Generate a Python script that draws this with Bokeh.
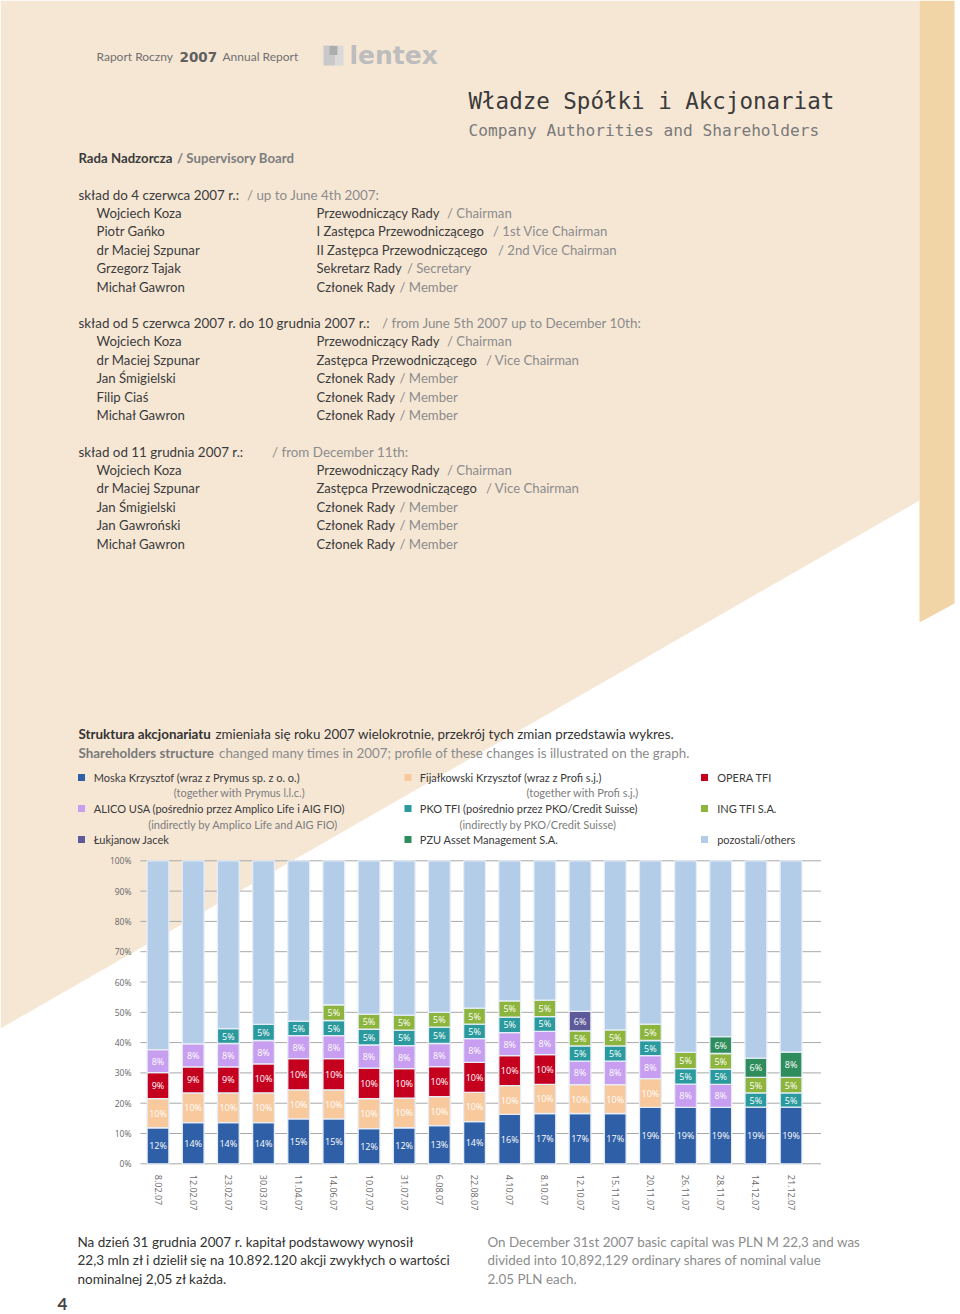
import math
from bokeh.plotting import figure
from bokeh.models import Range1d, LinearAxis, FixedTicker, PrintfTickFormatter, ColumnDataSource
from bokeh.embed import file_html
from bokeh.resources import INLINE
from bokeh.core.properties import value

# ---------------- data ----------------
dates = ["8.02.07", "12.02.07", "23.02.07", "30.03.07", "11.04.07", "14.06.07",
         "10.07.07", "31.07.07", "6.08.07", "22.08.07", "4.10.07", "8.10.07",
         "12.10.07", "15.11.07", "20.11.07", "26.11.07", "28.11.07", "14.12.07", "21.12.07"]

moska       = [11.9, 13.6, 13.6, 13.6, 14.8, 14.8, 11.6, 11.9, 12.6, 13.9, 16.3, 16.6, 16.6, 16.6, 18.6, 18.6, 18.6, 18.7, 18.7]
fijalkowski = [9.6, 9.8, 9.8, 9.8, 9.6, 9.6, 9.9, 9.8, 9.6, 9.7, 9.5, 9.6, 9.5, 9.5, 9.5, 0, 0, 0, 0]
opera       = [8.6, 8.6, 8.6, 9.6, 10.3, 10.3, 10.1, 9.7, 9.9, 9.9, 9.9, 9.8, 0, 0, 0, 0, 0, 0, 0]
alico       = [7.6, 7.6, 7.7, 7.7, 7.6, 7.6, 7.6, 7.6, 7.6, 7.8, 7.6, 7.7, 7.8, 7.8, 7.6, 7.7, 7.6, 0, 0]
pko         = [0, 0, 4.9, 5.3, 4.8, 5.0, 5.2, 5.1, 5.4, 4.8, 5.1, 4.9, 5.0, 5.0, 5.0, 5.1, 5.0, 4.7, 4.7]
ing         = [0, 0, 0, 0, 0, 5.2, 5.0, 5.0, 4.9, 5.3, 5.4, 5.4, 5.0, 5.3, 5.4, 5.4, 5.2, 5.1, 5.1]
lukjanow    = [0, 0, 0, 0, 0, 0, 0, 0, 0, 0, 0, 0, 6.4, 0, 0, 0, 0, 0, 0]
pzu         = [0, 0, 0, 0, 0, 0, 0, 0, 0, 0, 0, 0, 0, 0, 0, 0, 5.6, 6.4, 8.4]

stack_series = [moska, fijalkowski, opera, alico, pko, ing, lukjanow, pzu]
stack_colors = ["#2f5fa6", "#f8c99c", "#c5001f", "#c79ef0", "#2a9a9e", "#8db43c", "#5c5a98", "#2f8c5c"]
others_color = "#b3cce8"

pct_ticks = [0, 10, 20, 30, 40, 50, 60, 70, 80, 90, 100]

legend_main = [
    ["Moska Krzysztof (wraz z Prymus sp. z o. o.)", "Fijałkowski Krzysztof  (wraz z Profi s.j.)", "OPERA TFI"],
    ["ALICO USA (pośrednio przez Amplico Life i AIG FIO)", "PKO TFI (pośrednio przez PKO/Credit Suisse)", "ING TFI S.A."],
    ["Łukjanow Jacek", "PZU Asset Management S.A.", "pozostali/others"],
]
legend_colors = [
    ["#2f5fa6", "#f8c99c", "#c5001f"],
    ["#c79ef0", "#2a9a9e", "#8db43c"],
    ["#5c5a98", "#2f8c5c", "#b3cce8"],
]
legend_sub = [
    ["(together with Prymus l.l.c.)", "(together with Profi s.j.)"],
    ["(indirectly by Amplico Life and AIG FIO)", "(indirectly by PKO/Credit Suisse)"],
]

# ---------------- page geometry ----------------
W, H = 960, 1314
X0, DX = 157.5, 35.17          # bar centre pixel and step
Y0, DY = 1163.3, 3.03          # pixel of 0 % and px per %

p = figure(width=W, height=H, x_range=Range1d(0, W), y_range=Range1d(H, 0),
           output_backend="svg", toolbar_location=None,
           x_axis_location=None, y_axis_location=None, min_border=0,
           outline_line_color=None, background_fill_color="white", border_fill_color="white")
p.grid.visible = False
p.extra_x_ranges = {"cx": Range1d(-X0 / DX, (W - X0) / DX)}
p.extra_y_ranges = {"pct": Range1d((Y0 - H) / DY, Y0 / DY)}

PEACH = "#f6e7d5"
STRIP = "#f1d5a6"
p.patch(x=[0, 919, 919, 0], y=[0, 0, 500, 1028], fill_color=PEACH, line_color=None)
p.patch(x=[919, 954, 954, 919], y=[0, 0, 603, 622], fill_color=STRIP, line_color=None)

# ---------------- texts ----------------
DARK = "#3b3b3b"
GRAY = "#8c8c8c"
runs = {"x": [], "y": [], "text": [], "color": [], "size": [], "style": [], "font": []}


def add(x, y, text, color=DARK, size="13px", style="normal", font="Lato"):
    runs["x"].append(x); runs["y"].append(y); runs["text"].append(text)
    runs["color"].append(color); runs["size"].append(size); runs["style"].append(style)
    runs["font"].append(font)


# header
add(96, 56, "Raport Roczny", "#707070", "12px")
add(179, 56, "2007", "#606060", "13.5px", "bold", "DejaVu Sans")
add(222, 56, "Annual Report", "#707070", "12px")
add(349, 55, "lentex", "#bdbdbd", "25px", "bold", "DejaVu Sans")
p.rect(x=[329, 339], y=[55, 55], width=[12, 8], height=[20, 20], fill_color=["#c9c9c9", "#dadada"], line_color=None)
p.rect(x=[333], y=[50], width=[8], height=[9], fill_color=["#adadad"], line_color=None)

add(468, 100, "Władze Spółki i Akcjonariat", "#3a3a3a", "22.5px", "normal", "DejaVu Sans Mono")
add(468, 130, "Company Authorities and Shareholders", "#7a7a7a", "16.2px", "normal", "DejaVu Sans Mono")

add(78, 157, "Rada Nadzorcza", DARK, "13.2px", "bold")
add(176.5, 157, "/ Supervisory Board", "#7e7e7e", "13.2px", "bold")

roles = {
    "ch": ("Przewodniczący Rady", "/ Chairman", 446.5),
    "v1": ("I Zastępca Przewodniczącego", "/ 1st Vice Chairman", 492.5),
    "v2": ("II Zastępca Przewodniczącego", "/ 2nd Vice Chairman", 497.4),
    "sec": ("Sekretarz Rady", "/ Secretary", 406.4),
    "mem": ("Członek Rady", "/ Member", 399),
    "vc": ("Zastępca Przewodniczącego", "/ Vice Chairman", 485.5),
}
sections = [
    (194, "skład do 4 czerwca 2007 r.:", "/ up to June 4th 2007:", 246.4,
     [("Wojciech Koza", "ch"), ("Piotr Gańko", "v1"), ("dr Maciej Szpunar", "v2"),
      ("Grzegorz Tajak", "sec"), ("Michał Gawron", "mem")]),
    (322.5, "skład od 5 czerwca 2007 r. do 10 grudnia 2007 r.:", "/ from June 5th 2007 up to December 10th:", 381.5,
     [("Wojciech Koza", "ch"), ("dr Maciej Szpunar", "vc"), ("Jan Śmigielski", "mem"),
      ("Filip Ciaś", "mem"), ("Michał Gawron", "mem")]),
    (451, "skład od 11 grudnia 2007 r.:", "/ from December 11th:", 271.5,
     [("Wojciech Koza", "ch"), ("dr Maciej Szpunar", "vc"), ("Jan Śmigielski", "mem"),
      ("Jan Gawroński", "mem"), ("Michał Gawron", "mem")]),
]
for y, pl, en, enx, people in sections:
    add(78, y, pl, DARK, "13.4px")
    add(enx, y, en, GRAY, "13.4px")
    for k, (name, role) in enumerate(people):
        yy = y + 18.4 * (k + 1)
        rp, re, rx = roles[role]
        add(96, yy, name, DARK, "13.2px")
        add(316, yy, rp)
        add(rx, yy, re, GRAY, "13.2px")

add(78, 733, "Struktura akcjonariatu", "#333333", "13.4px", "bold")
add(215, 733, "zmieniała się roku 2007 wielokrotnie, przekrój tych zmian przedstawia wykres.", "#333333", "13.4px")
add(78, 752, "Shareholders structure", "#7a7a7a", "13.4px", "bold")
add(218.5, 752, "changed many times in 2007; profile of these changes is illustrated on the graph.", GRAY, "13.4px")

# legend
col_sq = [81, 407.5, 704]
col_tx = [93.3, 419.3, 716.7]
row_y = [777, 808, 839]
sub_y = [792, 823.5]
sub_x = [[173.3, 526], [147.7, 459]]
sq_x, sq_y, sq_c = [], [], []
for r in range(3):
    for c in range(3):
        sq_x.append(col_sq[c]); sq_y.append(row_y[r]); sq_c.append(legend_colors[r][c])
        add(col_tx[c], row_y[r], legend_main[r][c], "#3a3a3a", "11px")
for r in range(2):
    for c in range(2):
        add(sub_x[r][c], sub_y[r], legend_sub[r][c], "#7d7d7d", "11px")
p.rect(x=sq_x, y=sq_y, width=7, height=7, fill_color=sq_c, line_color=None)

# bottom paragraph
left_par = ["Na dzień 31 grudnia 2007 r. kapitał podstawowy wynosił",
            "22,3 mln zł i dzielił się na 10.892.120 akcji zwykłych o wartości",
            "nominalnej 2,05 zł każda."]
right_par = ["On December 31st 2007 basic capital was PLN M 22,3 and was",
             "divided into 10,892,129 ordinary shares of nominal value",
             "2.05 PLN each."]
for k in range(3):
    add(77, 1241 + 18.5 * k, left_par[k], "#333333", "13.5px")
    add(487, 1241 + 18.5 * k, right_par[k], GRAY, "13.4px")
add(57, 1303, "4", "#444444", "17px", "bold")

src = ColumnDataSource(runs)
p.text(x="x", y="y", text="text", source=src, text_color="color", text_font_size="size",
       text_font_style="style", text_font="font", text_baseline="middle", text_align="left")

# ---------------- chart ----------------
p.segment(x0=[-0.5] * len(pct_ticks), x1=[18.85] * len(pct_ticks), y0=pct_ticks, y1=pct_ticks,
          x_range_name="cx", y_range_name="pct", line_color="#a8a8a8", line_width=1)

bx, bb, bt, bc, lx, ly, lt = [], [], [], [], [], [], []
for i in range(len(dates)):
    base = 0.0
    for s, col in zip(stack_series, stack_colors):
        v = s[i]
        if v > 0:
            bx.append(i); bb.append(base); bt.append(base + v); bc.append(col)
            lx.append(i); ly.append(base + v / 2); lt.append("%d%%" % int(math.floor(v + 0.5)))
            base += v
    bx.append(i); bb.append(base); bt.append(100); bc.append(others_color)

p.vbar(x=bx, bottom=bb, top=bt, width=0.62, fill_color=bc, line_color="#e6edf7", line_width=1.3,
       x_range_name="cx", y_range_name="pct")
p.text(x=lx, y=ly, text=lt, x_range_name="cx", y_range_name="pct", text_color="white",
       text_font=value("Open Sans"), text_font_size="9px", text_align="center", text_baseline="middle")

yaxis = LinearAxis(y_range_name="pct", fixed_location=140,
                   ticker=FixedTicker(ticks=pct_ticks),
                   formatter=PrintfTickFormatter(format="%d%%"),
                   axis_line_color=None, major_tick_line_color=None, minor_tick_line_color=None,
                   major_label_text_font="Open Sans", major_label_text_font_size="8.5px",
                   major_label_text_color="#666666", major_label_standoff=3)
p.add_layout(yaxis, "left")

xaxis = LinearAxis(x_range_name="cx", fixed_location=Y0,
                   ticker=FixedTicker(ticks=list(range(len(dates)))),
                   major_label_overrides={i: d for i, d in enumerate(dates)},
                   major_label_orientation="vertical",
                   axis_line_color=None, major_tick_line_color=None, minor_tick_line_color=None,
                   major_label_text_font="Open Sans", major_label_text_font_size="9px",
                   major_label_text_color="#6a6a6a", major_label_standoff=5)
p.add_layout(xaxis, "below")

open("out.html", "w").write(file_html(p, INLINE))
